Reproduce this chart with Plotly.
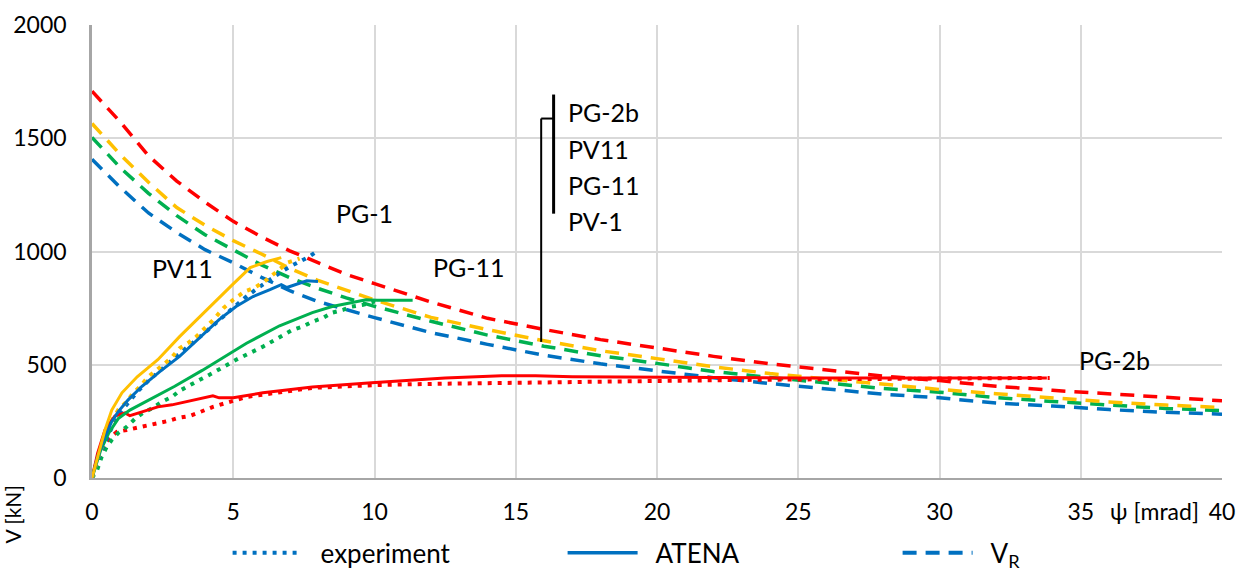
import plotly.graph_objects as go

# ---------------- data (psi [mrad], V [kN]) ----------------
# V_R failure criteria (dashed)
vr_x = [0, 1, 2, 3, 4, 5, 6, 7, 8, 9, 10, 12, 14, 16, 18, 20, 22, 24, 26, 28, 30, 32, 34, 36, 38, 40]
vr_red = [1708, 1572, 1423, 1311, 1218, 1133, 1065, 1003, 951, 899, 858, 777, 705, 656, 611, 573,
          537, 504, 477, 450, 430, 405, 387, 372, 355, 341]
vr_orange = [1565, 1428, 1306, 1194, 1116, 1048, 989, 926, 872, 827, 786, 709, 655, 606, 562, 527,
             491, 461, 437, 415, 391, 372, 354, 336, 322, 311]
vr_green = [1504, 1370, 1257, 1158, 1074, 1008, 941, 884, 837, 795, 758, 692, 631, 582, 540, 506,
            470, 444, 418, 395, 379, 355, 338, 323, 307, 298]
vr_blue = [1407, 1283, 1170, 1084, 1008, 950, 886, 827, 779, 742, 708, 642, 590, 542, 504, 473,
           443, 417, 395, 370, 354, 331, 318, 302, 290, 282]

# ATENA (solid)
at_blue_x = [0, 0.2, 0.46, 0.7, 0.93, 1.28, 1.76, 2.4, 3.1, 3.9, 4.5, 5.1, 5.7, 6.3, 6.7, 6.9, 7.2, 7.6, 8.0]
at_blue_y = [0, 95, 183, 250, 293, 345, 404, 470, 537, 632, 699, 757, 801, 832, 854, 841, 854, 871, 867]
at_orange_x = [0, 0.2, 0.46, 0.7, 1.06, 1.6, 2.33, 3.1, 4.3, 5.0, 5.6, 6.2, 6.7]
at_orange_y = [0, 93, 212, 300, 376, 447, 522, 624, 774, 857, 929, 956, 973]
at_green_x = [0, 0.3, 0.6, 0.93, 1.34, 2.1, 2.93, 3.9, 4.28, 5.47, 6.64, 7.8, 8.5, 9.2, 9.7, 10.1, 11.35]
at_green_y = [0, 120, 200, 262, 300, 350, 405, 475, 505, 595, 672, 730, 757, 775, 787, 785, 785]
at_red_x = [0, 0.2, 0.46, 0.81, 1.17, 1.34, 1.77, 2.33, 2.83, 3.3, 3.75, 4.28, 4.5, 5.0, 6.05, 7.8,
            9.9, 12.5, 14.5, 15.7, 17, 20, 25, 30, 33.8]
at_red_y = [0, 110, 212, 274, 287, 275, 292, 314, 323, 336, 350, 363, 354, 354, 376, 402,
            420, 442, 451, 451, 447, 445, 442, 442, 442]

# experiment (dotted)
ex_blue_x = [0, 0.2, 0.4, 0.6, 0.8, 1.0, 1.3, 1.6, 2.0, 2.4, 2.8, 3.2, 3.6, 4.0, 4.4, 4.8, 5.2,
             5.5, 5.8, 6.1, 6.4, 6.7, 7.0, 7.3, 7.7, 8.0]
ex_blue_y = [0, 80, 140, 200, 250, 290, 335, 380, 430, 475, 515, 560, 600, 640, 685, 730, 775,
             805, 832, 858, 889, 910, 933, 951, 978, 1004]
ex_orange_x = [0, 0.22, 0.4, 0.58, 0.75, 0.93, 1.23, 1.46, 1.7, 2.0, 2.3, 2.6, 2.8, 3.1, 3.4, 3.7,
               4.0, 4.3, 4.65, 5.0, 5.4, 5.75, 6.1, 6.6, 6.93, 7.35]
ex_orange_y = [0, 94, 153, 220, 264, 301, 338, 375, 404, 448, 478, 507, 529, 573, 596, 625,
               662, 699, 750, 787, 823, 840, 867, 920, 951, 969]
ex_green_x = [0, 0.18, 0.34, 0.52, 0.7, 0.93, 1.23, 1.52, 1.8, 2.16, 2.47, 2.83, 3.1, 3.46, 3.75,
              4.28, 5.1, 6.05, 7.1, 7.45, 7.8, 8.2, 8.5, 8.9, 9.2, 9.6, 10.0, 10.2]
ex_green_y = [0, 35, 93, 137, 168, 199, 226, 261, 287, 310, 336, 358, 385, 407, 429,
              464, 522, 580, 654, 668, 690, 708, 730, 743, 757, 765, 779, 772]
ex_red_x = [0, 0.22, 0.5, 0.88, 1.23, 1.6, 1.94, 2.33, 2.7, 3.04, 3.46, 3.8, 4.28, 5.47, 6.64,
            7.8, 9.0, 10.2, 12.2, 14.5, 16.9, 20.2, 23, 26, 30, 33.9]
ex_red_y = [0, 80, 160, 204, 212, 221, 232, 243, 252, 265, 274, 290, 314, 358, 380,
            398, 405, 411, 416, 420, 425, 429, 433, 436, 438, 442]

x_ticks = [0, 5, 10, 15, 20, 25, 30, 35, 40]
y_ticks = [0, 500, 1000, 1500, 2000]

RED, ORANGE, GREEN, BLUE = "#FF0000", "#FFC000", "#00B050", "#0070C0"
FONT = "Lato, 'Liberation Sans', Arial, sans-serif"
DASH = "14px,9px"
DOT = "4px,6px"

fig = go.Figure()

for xs, ys, c in [(vr_x, vr_blue, BLUE), (vr_x, vr_green, GREEN), (vr_x, vr_orange, ORANGE), (vr_x, vr_red, RED)]:
    fig.add_trace(go.Scatter(x=xs, y=ys, mode="lines", line=dict(color=c, width=3.5, dash=DASH),
                             showlegend=False, hoverinfo="skip"))
for xs, ys, c in [(ex_red_x, ex_red_y, RED), (ex_green_x, ex_green_y, GREEN),
                  (ex_blue_x, ex_blue_y, BLUE), (ex_orange_x, ex_orange_y, ORANGE)]:
    fig.add_trace(go.Scatter(x=xs, y=ys, mode="lines", line=dict(color=c, width=4, dash=DOT),
                             showlegend=False, hoverinfo="skip"))
for xs, ys, c in [(at_red_x, at_red_y, RED), (at_green_x, at_green_y, GREEN),
                  (at_blue_x, at_blue_y, BLUE), (at_orange_x, at_orange_y, ORANGE)]:
    fig.add_trace(go.Scatter(x=xs, y=ys, mode="lines", line=dict(color=c, width=3),
                             showlegend=False, hoverinfo="skip"))

# legend entries
fig.add_trace(go.Scatter(x=[None], y=[None], mode="lines", name="\u2002experiment",
                         line=dict(color=BLUE, width=4, dash=DOT)))
fig.add_trace(go.Scatter(x=[None], y=[None], mode="lines", name="\u2002ATENA",
                         line=dict(color=BLUE, width=3.5)))
fig.add_trace(go.Scatter(x=[None], y=[None], mode="lines", name="\u2002V<sub>R</sub>",
                         line=dict(color=BLUE, width=4, dash="14px,9px")))

# labels
labels = [("PG-1", 8.63, 1171), ("PV11", 2.12, 928), ("PG-11", 12.06, 933), ("PG-2b", 34.95, 522)]
for t, lx, ly in labels:
    fig.add_annotation(x=lx, y=ly, text=t, showarrow=False, xanchor="left", yanchor="middle",
                       xshift=-2, font=dict(size=25, color="black", family=FONT))

stack_labels = ["PG-2b", "PV11", "PG-11", "PV-1"]
stack_y = [1615, 1452, 1293, 1133]
for t, ly in zip(stack_labels, stack_y):
    fig.add_annotation(x=16.85, y=ly, text=t, showarrow=False, xanchor="left", yanchor="middle",
                       xshift=-2, font=dict(size=25, color="black", family=FONT))

# bracket pointing to V_R curves
fig.add_shape(type="line", x0=15.9, y0=601, x1=15.9, y1=1587, line=dict(color="black", width=2))
fig.add_shape(type="line", x0=15.9, y0=1587, x1=16.34, y1=1587, line=dict(color="black", width=2))
fig.add_shape(type="line", x0=16.34, y0=1693, x1=16.34, y1=1167, line=dict(color="black", width=3))

# axis titles
fig.add_annotation(xref="paper", yref="paper", x=-0.0705, y=-0.08, text="V [kN]", textangle=-90,
                   showarrow=False, xanchor="center", yanchor="middle",
                   font=dict(size=21, color="black", family=FONT))
fig.add_annotation(xref="x", yref="paper", x=37.6, y=-0.073, text="ψ [mrad]",
                   showarrow=False, xanchor="center", yanchor="middle",
                   font=dict(size=23, color="black", family=FONT))

fig.update_xaxes(range=[0, 40], tickvals=x_ticks, showgrid=True, gridcolor="#D9D9D9", gridwidth=1.5,
                 showline=True, linecolor="#A6A6A6", linewidth=2, zeroline=False, ticks="",
                 automargin=False,
                 ticklabelstandoff=12, tickfont=dict(size=23, color="black", family=FONT))
fig.update_yaxes(range=[0, 2000], tickvals=y_ticks, showgrid=True, gridcolor="#D9D9D9", gridwidth=1.5,
                 showline=True, linecolor="#A6A6A6", linewidth=2.5, zeroline=False, ticks="",
                 automargin=False,
                 ticklabelstandoff=18, tickfont=dict(size=23, color="black", family=FONT))

fig.update_layout(
    width=1238, height=571,
    margin=dict(l=92, r=16, t=25, b=93, autoexpand=False),
    paper_bgcolor="white", plot_bgcolor="white",
    font=dict(family=FONT, size=23, color="black"),
    legend=dict(orientation="h", x=0.12, xanchor="left", y=-0.165, yanchor="middle",
                font=dict(size=26, color="black", family=FONT),
                itemwidth=70, entrywidth=250, bgcolor="rgba(0,0,0,0)"),
)

fig.write_html("out.html", config={"displayModeBar": False},
               post_script="document.body.style.margin='0';")
